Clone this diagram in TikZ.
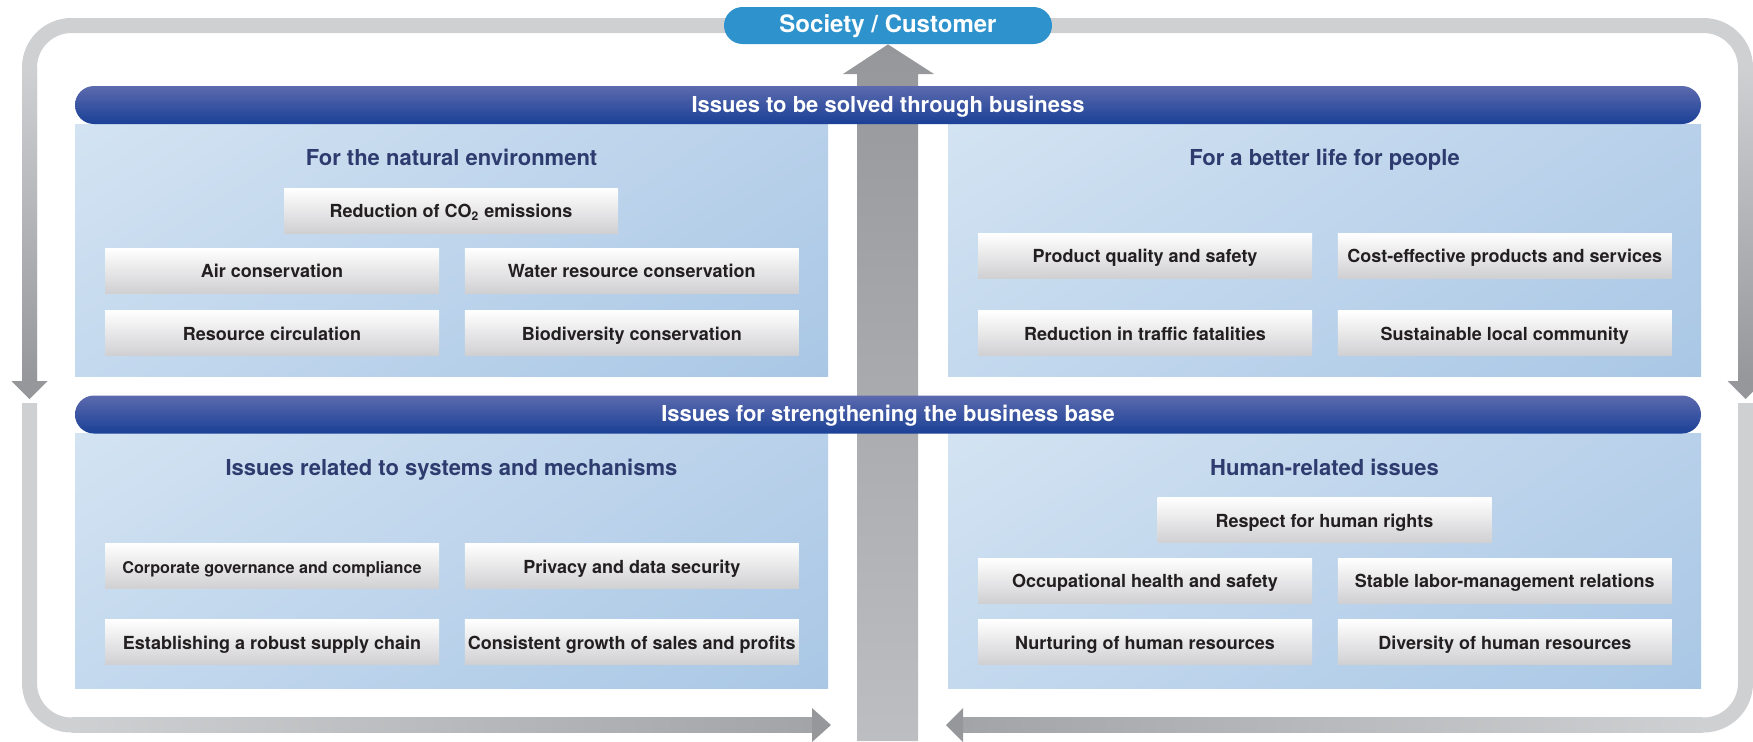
\documentclass[tikz,border=0pt]{standalone}
\usepackage{fontspec}
\setmainfont{TeX Gyre Heros}
\usepackage{tikz}
\usetikzlibrary{
  arrows.meta,
  calc,
  positioning,
  backgrounds,
  shadings
}

\definecolor{ringLight}{RGB}{207,208,210}
\definecolor{ringMid}{RGB}{163,164,168}
\definecolor{ringDark}{RGB}{150,151,155}
\definecolor{upLight}{RGB}{189,190,194}
\definecolor{hubBlue}{RGB}{46,147,204}
\definecolor{barTop}{RGB}{92,106,174}
\definecolor{barBot}{RGB}{26,64,150}
\definecolor{panUL}{RGB}{211,227,242}
\definecolor{panUR}{RGB}{184,208,234}
\definecolor{panLL}{RGB}{196,217,238}
\definecolor{panLR}{RGB}{169,199,229}
\definecolor{titleInk}{RGB}{45,59,110}
\definecolor{boxBot}{RGB}{208,208,211}
\definecolor{boxInk}{RGB}{35,31,32}

\tikzset{
  capsonly/.style={text height=0.72em, text depth=0pt},
  ring/.style={draw=ringLight, line width=7.5pt, rounded corners=21pt},
  hub/.style={
    capsonly, fill=hubBlue, text=white, rounded corners=9.25pt,
    minimum width=164pt, minimum height=18.5pt, inner sep=0pt,
    font=\bfseries\fontsize{12}{14}\selectfont
  },
  banner/.style={
    capsonly, top color=barTop, bottom color=barBot, text=white, rounded corners=9.5pt,
    minimum width=813pt, minimum height=19pt, inner sep=0pt,
    font=\bfseries\fontsize{11}{13}\selectfont
  },
  panel/.style={upper left=panUL, upper right=panUR, lower left=panLL, lower right=panLR},
  paneltitle/.style={capsonly, text=titleInk, inner sep=0pt, font=\bfseries\fontsize{11}{13}\selectfont},
  issue/.style={
    capsonly, top color=white, bottom color=boxBot, text=boxInk,
    minimum width=167pt, minimum height=22.5pt, inner sep=0pt,
    font=\bfseries\fontsize{9}{11}\selectfont
  },
}

\begin{document}
\begin{tikzpicture}[x=0.5pt, y=-0.5pt]
\useasboundingbox (0,0) rectangle (1753,741);

% --- hub on top ---
\node[hub] (soc) at (888,25.5) {Society / Customer};

% --- four light blue panels ---
\shade[panel] (75,124) rectangle (828,376);
\shade[panel] (948,124) rectangle (1701,376);
\shade[panel] (75,433) rectangle (828,688);
\shade[panel] (948,433) rectangle (1701,688);

% --- the two banners ---
\node[banner] (biz) at (888,105) {Issues to be solved through business};
\node[banner] (base) at (888,414.5) {Issues for strengthening the business base};

% --- natural environment ---
\begin{scope}[shift={(75,124)}]
  \node[paneltitle] (envT) at (376.5,34) {For the natural environment};
  \node[issue] (co2) at (376,86.5) {Reduction of CO\textsubscript{2} emissions};
  \node[issue] (air) at (197,146.5) {Air conservation};
  \node[issue, right=12.5pt of air] (water) {Water resource conservation};
  \node[issue, below=8.25pt of air] (circ) {Resource circulation};
  \node[issue, right=12.5pt of circ] (bio) {Biodiversity conservation};
\end{scope}

% --- better life ---
\begin{scope}[shift={(948,124)}]
  \node[paneltitle] (lifeT) at (376.5,34) {For a better life for people};
  \node[issue] (quality) at (197,131.5) {Product quality and safety};
  \node[issue, right=12.5pt of quality] (cost) {Cost-effective products and services};
  \node[issue, below=16pt of quality] (traffic) {Reduction in traffic fatalities};
  \node[issue, right=12.5pt of traffic] (local) {Sustainable local community};
\end{scope}

% --- systems and mechanisms ---
\begin{scope}[shift={(75,433)}]
  \node[paneltitle] (sysT) at (376.5,35) {Issues related to systems and mechanisms};
  \node[issue, font=\bfseries\fontsize{8.1}{10}\selectfont] (gov) at (197,133) {Corporate governance and compliance};
  \node[issue, right=12.5pt of gov] (privacy) {Privacy and data security};
  \node[issue, below=15pt of gov] (supply) {Establishing a robust supply chain};
  \node[issue, right=12.5pt of supply] (growth) {Consistent growth of sales and profits};
\end{scope}

% --- human-related ---
\begin{scope}[shift={(948,433)}]
  \node[paneltitle] (humT) at (376.5,35) {Human-related issues};
  \node[issue] (rights) at (376.5,87) {Respect for human rights};
  \node[issue] (health) at (197,147.5) {Occupational health and safety};
  \node[issue, right=12.5pt of health] (labor) {Stable labor-management relations};
  \node[issue, below=7.75pt of health] (talent) {Nurturing of human resources};
  \node[issue, right=12.5pt of talent] (diverse) {Diversity of human resources};
\end{scope}

% --- grey loop and the big arrow, behind everything ---
\begin{scope}[on background layer]
  \coordinate (lDrop) at (29.5,381);
  \coordinate (lRise) at (29.5,403);
  \coordinate (rDrop) at (1745.5,381);
  \coordinate (rRise) at (1745.5,403);
  \coordinate (bL) at (812,725);
  \coordinate (bR) at (963,725);

  \draw[ring] (soc.center) -| (lDrop);
  \draw[ring] (soc.center) -| (rDrop);
  \draw[ring] (lRise) |- (bL);
  \draw[ring] (rRise) |- (bR);

  % darker towards the heads
  \shade[top color=ringLight, bottom color=ringDark] (22,68) rectangle ($(lDrop)+(7.5,0)$);
  \shade[top color=ringLight, bottom color=ringDark] (1738,68) rectangle ($(rDrop)+(7.5,0)$);
  \shade[left color=ringLight, right color=ringMid] (72,717.5) rectangle ($(bL)+(0,7.5)$);
  \shade[left color=ringMid, right color=ringLight] ($(bR)+(0,-7.5)$) rectangle (1703,732.5);

  \fill[ringDark] ($(lDrop)+(-18,0)$) -- ($(lDrop)+(18,0)$) -- ($(lDrop)+(0,18)$) -- cycle;
  \fill[ringDark] ($(rDrop)+(-18,0)$) -- ($(rDrop)+(18,0)$) -- ($(rDrop)+(0,18)$) -- cycle;
  \fill[ringDark] ($(bL)+(0,-17)$) -- ($(bL)+(19,0)$) -- ($(bL)+(0,17)$) -- cycle;
  \fill[ringDark] ($(bR)+(0,-17)$) -- ($(bR)+(-17,0)$) -- ($(bR)+(0,17)$) -- cycle;

  % big arrow up to the hub
  \shade[top color=ringDark, bottom color=upLight]
    (857,741) -- (857,74) -- (843,74) -- (soc.south) -- (934,74) -- (918,74) -- (918,741) -- cycle;
\end{scope}

\end{tikzpicture}
\end{document}
